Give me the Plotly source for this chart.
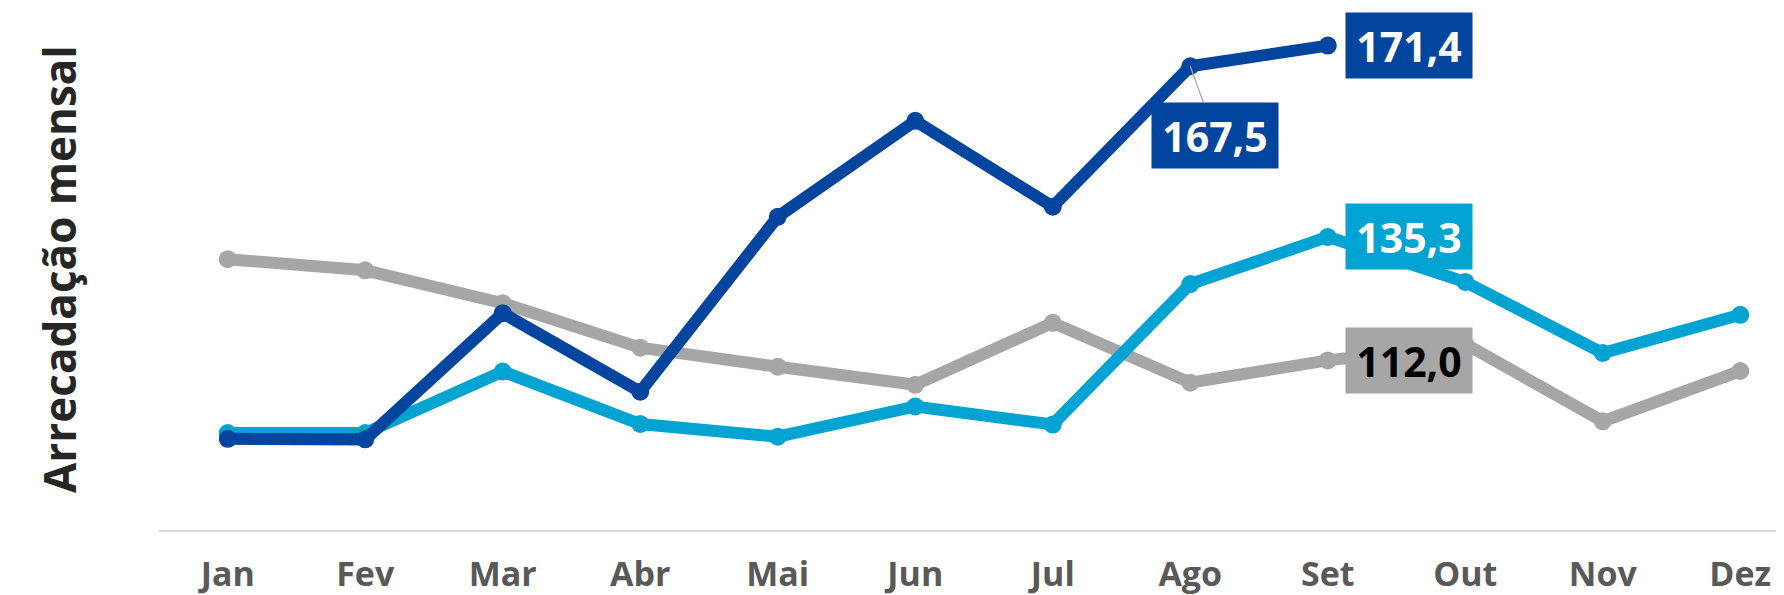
import plotly.graph_objects as go

months = ["Jan", "Fev", "Mar", "Abr", "Mai", "Jun", "Jul", "Ago", "Set", "Out", "Nov", "Dez"]

serie_atual = [97.2, 97.1, 120.9, 106.1, 139.1, 157.2, 141.0, 167.5, 171.4]
serie_anterior = [98.3, 98.3, 109.9, 100.0, 97.6, 103.3, 99.9, 126.4, 135.3, 126.8, 113.4, 120.6]
serie_antiga = [131.1, 129.0, 122.8, 114.4, 110.8, 107.4, 119.1, 107.8, 112.0, 115.1, 100.5, 110.0]

names = ["Ano -2", "Ano -1", "Ano atual"]
colors = ["#A6A6A6", "#00A3D2", "#02459E"]

# the page body has an 8px default margin; the figure is sized so the window shows it as intended
OFF = 8
W, H = 1784 - OFF, 595 - OFF
ML, MR, MT, MB = 159 - OFF, 0, 0, 65
PX_PER_UNIT = 5.303
Y_MIN = 80
Y_MAX = 180 - OFF / PX_PER_UNIT
FONT = "Open Sans"

fig = go.Figure()
for name, vals, col in zip(names, [serie_antiga, serie_anterior, serie_atual], colors):
    fig.add_trace(go.Scatter(
        x=months[:len(vals)], y=vals, name=name, mode="lines+markers",
        line=dict(color=col, width=12),
        marker=dict(color=col, size=18),
        showlegend=False, hoverinfo="skip",
    ))

def fmt(v):
    return f"{v:.1f}".replace(".", ",")

label_specs = [
    (months[8], serie_atual[8], colors[2], "white"),
    (months[8], serie_anterior[8], colors[1], "white"),
    (months[8], serie_antiga[8], colors[0], "black"),
]
for xm, v, bg, fc in label_specs:
    fig.add_annotation(
        x=xm, y=v, xref="x", yref="y", text=f"<b>{fmt(v)}</b>",
        showarrow=False, xanchor="left", yanchor="middle", xshift=17,
        bgcolor=bg, borderpad=6, width=114, height=53, align="center",
        font=dict(family=FONT, size=41, color=fc),
    )

# 167,5 label with leader line
fig.add_annotation(
    x=months[7], y=serie_atual[7], xref="x", yref="y", text=f"<b>{fmt(serie_atual[7])}</b>",
    showarrow=True, arrowhead=0, arrowwidth=1.2, arrowcolor="#A6A6A6",
    ax=25, ay=69, bgcolor=colors[2], borderpad=6, width=114, height=53, align="center",
    font=dict(family=FONT, size=41, color="white"),
)

# y title
plot_h = H - MT - MB
fig.add_annotation(
    x=(59 - 159) / (W - ML - MR), y=1 - (269 - OFF) / plot_h, xref="paper", yref="paper",
    text="<b>Arrecadação mensal</b>", textangle=-90, showarrow=False,
    xanchor="center", yanchor="middle",
    font=dict(family=FONT, size=44, color="#262626"),
)

fig.update_layout(
    width=W, height=H,
    margin=dict(l=ML, r=MR, t=MT, b=MB, pad=0),
    paper_bgcolor="white", plot_bgcolor="white",
    xaxis=dict(
        type="category", categoryorder="array", categoryarray=months,
        range=[-0.5, 11.318], showgrid=False, zeroline=False,
        showline=True, linecolor="#D9D9D9", linewidth=2,
        ticks="", ticklabelstandoff=13, automargin=False,
        tickfont=dict(family=FONT, size=34, color="#595959"),
        tickvals=months, ticktext=[f"<b>{m}</b>" for m in months],
    ),
    yaxis=dict(range=[Y_MIN, Y_MAX], visible=False, showgrid=False, zeroline=False, automargin=False),
)

fig.write_html("out.html")
